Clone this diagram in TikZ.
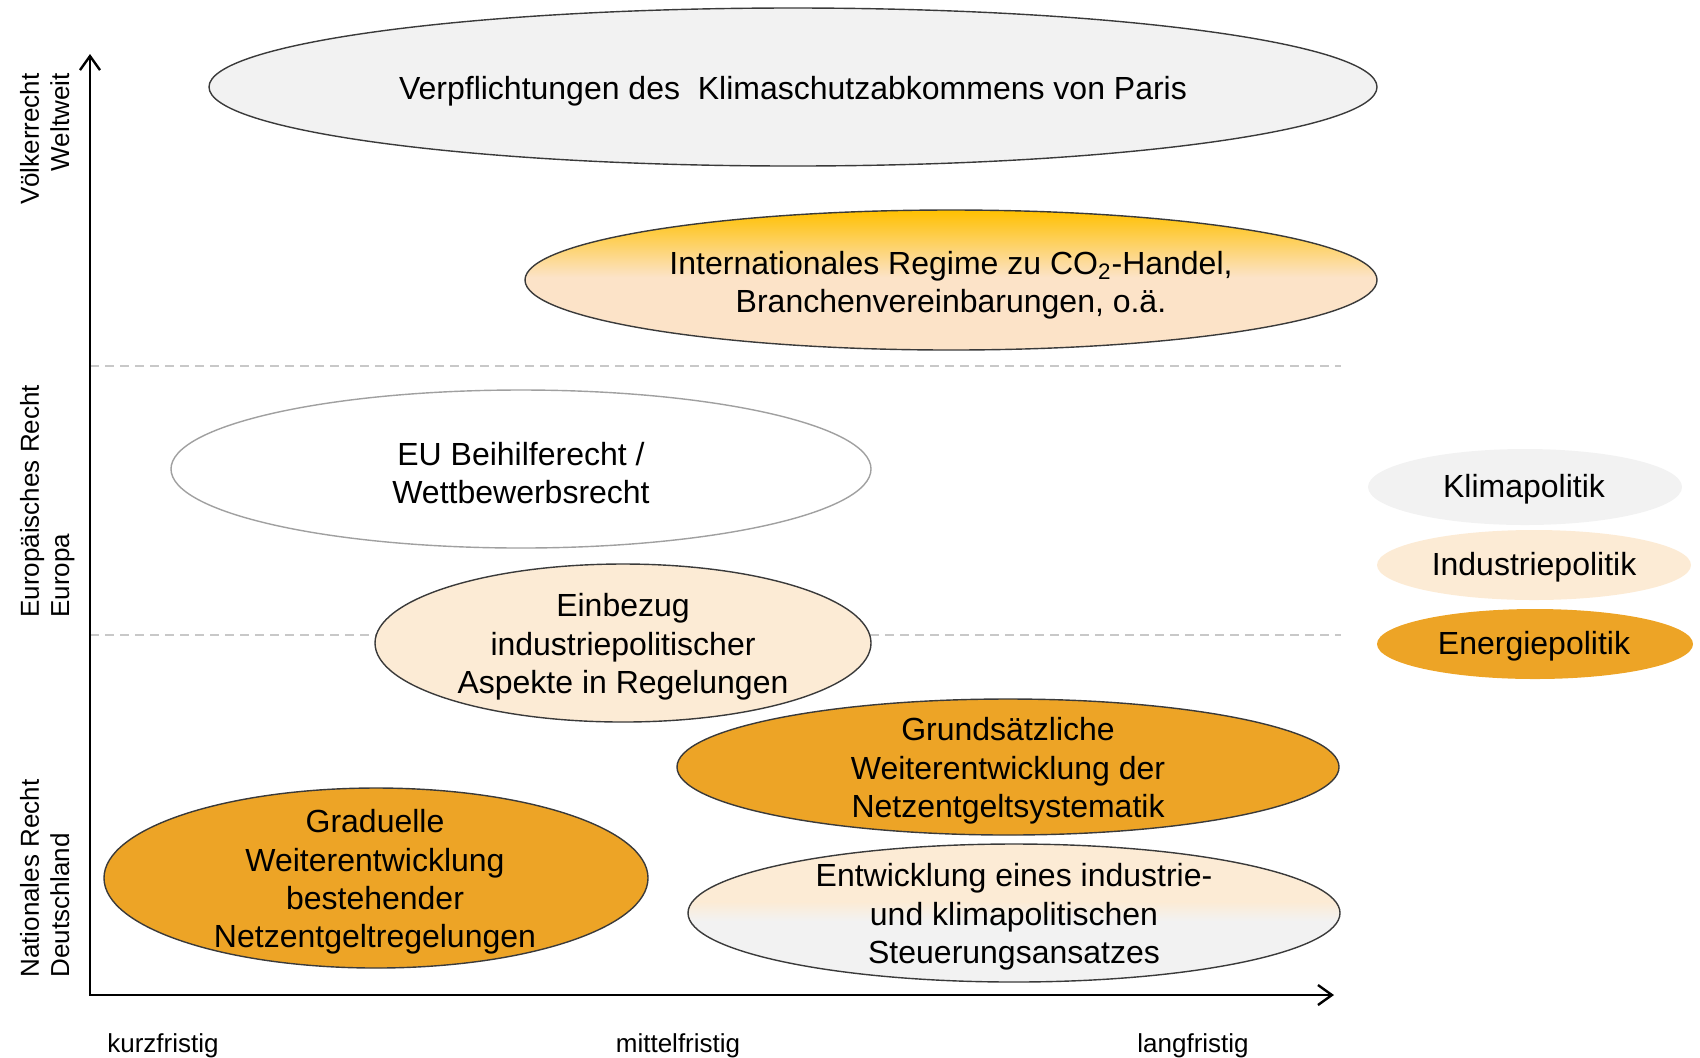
\documentclass[tikz,border=0pt]{standalone}
\usepackage{fontspec}
\setmainfont{Liberation Sans}
\usetikzlibrary{shapes.geometric,arrows.meta,calc}
\definecolor{edge}{HTML}{3A3A3A}
\definecolor{klima}{HTML}{F2F2F2}
\definecolor{indus}{HTML}{FCEBD5}
\definecolor{energ}{HTML}{EDA426}
\definecolor{gold}{HTML}{FFC000}
\definecolor{peach}{HTML}{FCE3C8}
\definecolor{dashgray}{HTML}{C8C8C8}
\definecolor{eugray}{HTML}{A0A0A0}
\begin{document}
\begin{tikzpicture}[x=0.5pt,y=-0.5pt,
  ell/.style={ellipse, draw=edge, line width=0.7pt, inner sep=0pt, outer sep=0pt},
  legend/.style={ellipse, inner sep=0pt, outer sep=0pt},
  txt/.style={font=\fontsize{16}{19.2}\selectfont, align=center, inner sep=0pt},
  lab/.style={font=\fontsize{13}{15}\selectfont, inner sep=0pt},
  vlab/.style={lab, rotate=90},
  axis/.style={line width=1.2pt, {Straight Barb[length=7pt,width=10pt]}-{Straight Barb[length=7pt,width=10pt]}},
  sep/.style={dashgray, line width=0.6pt, dash pattern=on 4.5pt off 3pt},
]
\useasboundingbox (0,0) rectangle (1700,1057);

% separators
\coordinate (s1a) at (90,366); \coordinate (s1b) at (1341,366);
\coordinate (s2a) at (90,635); \coordinate (s2b) at (1341,635);
\draw[sep] (s1a) -- (s1b);
\draw[sep] (s2a) -- (s2b);

% Paris
\node[ell, fill=klima, minimum width=584pt, minimum height=79pt] (paris) at (793,87) {};
\node[txt] (parist) at (793,91) {Verpflichtungen des~ Klimaschutzabkommens von Paris};

% CO2
\node[ell, minimum width=426pt, minimum height=70pt, path picture={
  \fill[peach] (path picture bounding box.north west) rectangle (path picture bounding box.south east);
  \shade[top color=gold, bottom color=peach] (path picture bounding box.north west) rectangle ($(path picture bounding box.north east)!0.48!(path picture bounding box.south east)$);
}] (co2) at (951,280) {};
\node[txt] (co2t) at (951,285) {Internationales Regime zu CO\textsubscript{2}-Handel,\\Branchenvereinbarungen, o.ä.};

% EU
\node[ell, draw=eugray, fill=white, minimum width=350pt, minimum height=79pt] (eu) at (521,469) {};
\node[txt] (eut) at (521,473) {EU Beihilferecht /\\Wettbewerbsrecht};

% Einbezug
\node[ell, fill=indus, minimum width=248pt, minimum height=79pt] (einb) at (623,643) {};
\node[txt] (einbt) at (623,647) {Einbezug\\industriepolitischer\\Aspekte in Regelungen};

% Graduelle
\node[ell, fill=energ, minimum width=272pt, minimum height=90pt] (grad) at (376,878) {};
\node[txt] (gradt) at (375,882) {Graduelle\\Weiterentwicklung\\bestehender\\Netzentgeltregelungen};

% Grundsaetzliche
\node[ell, fill=energ, minimum width=331pt, minimum height=68pt] (grund) at (1008,767) {};
\node[txt] (grundt) at (1008,771) {Grundsätzliche\\Weiterentwicklung der\\Netzentgeltsystematik};

% Entwicklung
\node[ell, minimum width=326pt, minimum height=69pt, path picture={
  \fill[klima] (path picture bounding box.north west) rectangle (path picture bounding box.south east);
  \fill[indus] (path picture bounding box.north west) rectangle ($(path picture bounding box.north east)!0.42!(path picture bounding box.south east)$);
  \shade[top color=indus, bottom color=klima] ($(path picture bounding box.north west)!0.42!(path picture bounding box.south west)$) rectangle ($(path picture bounding box.north east)!0.56!(path picture bounding box.south east)$);
}] (entw) at (1014,913) {};
\node[txt] (entwt) at (1014,917) {Entwicklung eines industrie-\\und klimapolitischen\\Steuerungsansatzes};

% legend
\node[legend, fill=klima, minimum width=157pt, minimum height=38pt] (lk) at (1525,487) {};
\node[txt] (lkt) at (1524,489) {Klimapolitik};
\node[legend, fill=indus, minimum width=157pt, minimum height=35pt] (li) at (1534,565) {};
\node[txt] (lit) at (1534,567) {Industriepolitik};
\node[legend, fill=energ, minimum width=158pt, minimum height=35pt] (le) at (1535,644) {};
\node[txt] (let) at (1534,646) {Energiepolitik};

% axes
\coordinate (yt) at (90,54);
\coordinate (xe) at (1334,995);
\draw[axis] (yt) |- (xe);

% axis labels
\node[lab, anchor=base] (kurz) at (163,1052) {kurzfristig};
\node[lab, anchor=base] (mittel) at (678,1052) {mittelfristig};
\node[lab, anchor=base] (lang) at (1193,1052) {langfristig};

\node[vlab, anchor=base east] (v1) at (39,73) {Völkerrecht};
\node[vlab, anchor=base east] (v2) at (69,73) {Weltweit};
\node[vlab, anchor=base west] (e1) at (39,618) {Europäisches Recht};
\node[vlab, anchor=base west] (e2) at (69,618) {Europa};
\node[vlab, anchor=base west] (n1) at (39,978) {Nationales Recht};
\node[vlab, anchor=base west] (n2) at (69,978) {Deutschland};
\end{tikzpicture}
\end{document}
